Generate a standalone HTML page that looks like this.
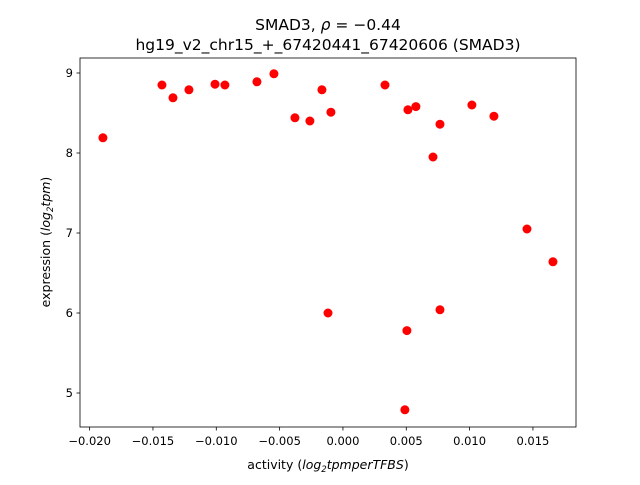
<!DOCTYPE html>
<html><head><meta charset="utf-8"><style>
body{margin:0;background:#fff;}
svg text{font-family:"DejaVu Sans","Liberation Sans",sans-serif;fill:#000;}
</style></head><body>
<svg id="chart" width="640" height="480" xmlns="http://www.w3.org/2000/svg">
<rect width="640" height="480" fill="#fff"/>
<text x="328" y="30" text-anchor="middle" font-size="15.5">SMAD3, <tspan font-style="italic">ρ</tspan> = −0.44</text>
<text x="328" y="50" text-anchor="middle" font-size="15.5">hg19_v2_chr15_+_67420441_67420606 (SMAD3)</text>
<g id="marks"></g>
<rect x="80" y="58" width="496" height="369" fill="none" stroke="#000" stroke-width="0.8"/>
<g id="xt"></g><g id="yt"></g>
<text x="328" y="469" text-anchor="middle" font-size="12.5">activity (<tspan font-style="italic">log</tspan><tspan font-size="8.5" dy="3" font-style="italic">2</tspan><tspan dy="-3" font-style="italic">tpmperTFBS</tspan>)</text>
<text transform="translate(50,242) rotate(-90)" text-anchor="middle" font-size="12.5">expression (<tspan font-style="italic">log</tspan><tspan font-size="8.5" dy="3" font-style="italic">2</tspan><tspan dy="-3" font-style="italic">tpm</tspan>)</text>
</svg>
<script>
const xVals=[-0.01895,-0.01429,-0.01342,-0.01216,-0.0101,-0.00932,-0.00679,-0.00545,-0.00379,-0.00261,-0.00166,-0.00095,-0.00118,0.00332,0.00513,0.00576,0.00505,0.00489,0.00711,0.00766,0.00766,0.01018,0.01192,0.01453,0.01658];
const yVals=[8.19,8.85,8.69,8.79,8.86,8.85,8.89,8.99,8.44,8.40,8.79,8.51,6.00,8.85,8.54,8.58,5.78,4.79,7.95,8.36,6.04,8.60,8.46,7.05,6.64];
const xTicks=[-0.020,-0.015,-0.010,-0.005,0.000,0.005,0.010,0.015];
const xTickLabels=["−0.020","−0.015","−0.010","−0.005","0.000","0.005","0.010","0.015"];
const yTicks=[5,6,7,8,9];
const NS="http://www.w3.org/2000/svg";
const x0=-0.02076,x1=0.0184,y0=4.575,y1=9.1875;
function sx(v){return 80+(v-x0)/(x1-x0)*496;}
function sy(v){return 427-(v-y0)/(y1-y0)*369;}
function mk(t,a,p){const e=document.createElementNS(NS,t);for(const k in a)e.setAttribute(k,a[k]);p.appendChild(e);return e;}
const m=document.getElementById('marks');
xVals.forEach((v,i)=>{const c=mk('circle',{cx:sx(v),cy:sy(yVals[i]),r:4.5,fill:'#ff0000'},m);

});
const xt=document.getElementById('xt');
xTicks.forEach((v,i)=>{const X=sx(v);mk('line',{x1:X,x2:X,y1:427,y2:430.5,stroke:'#000','stroke-width':0.8},xt);
const t=mk('text',{x:X,y:445,'text-anchor':'middle','font-size':11.5},xt);t.textContent=xTickLabels[i];

});
const yt=document.getElementById('yt');
yTicks.forEach(v=>{const Y=sy(v);mk('line',{x1:76.5,x2:80,y1:Y,y2:Y,stroke:'#000','stroke-width':0.8},yt);
const t=mk('text',{x:73,y:Y+4,'text-anchor':'end','font-size':11.5},yt);t.textContent=v;

});
</script>
</body></html>
